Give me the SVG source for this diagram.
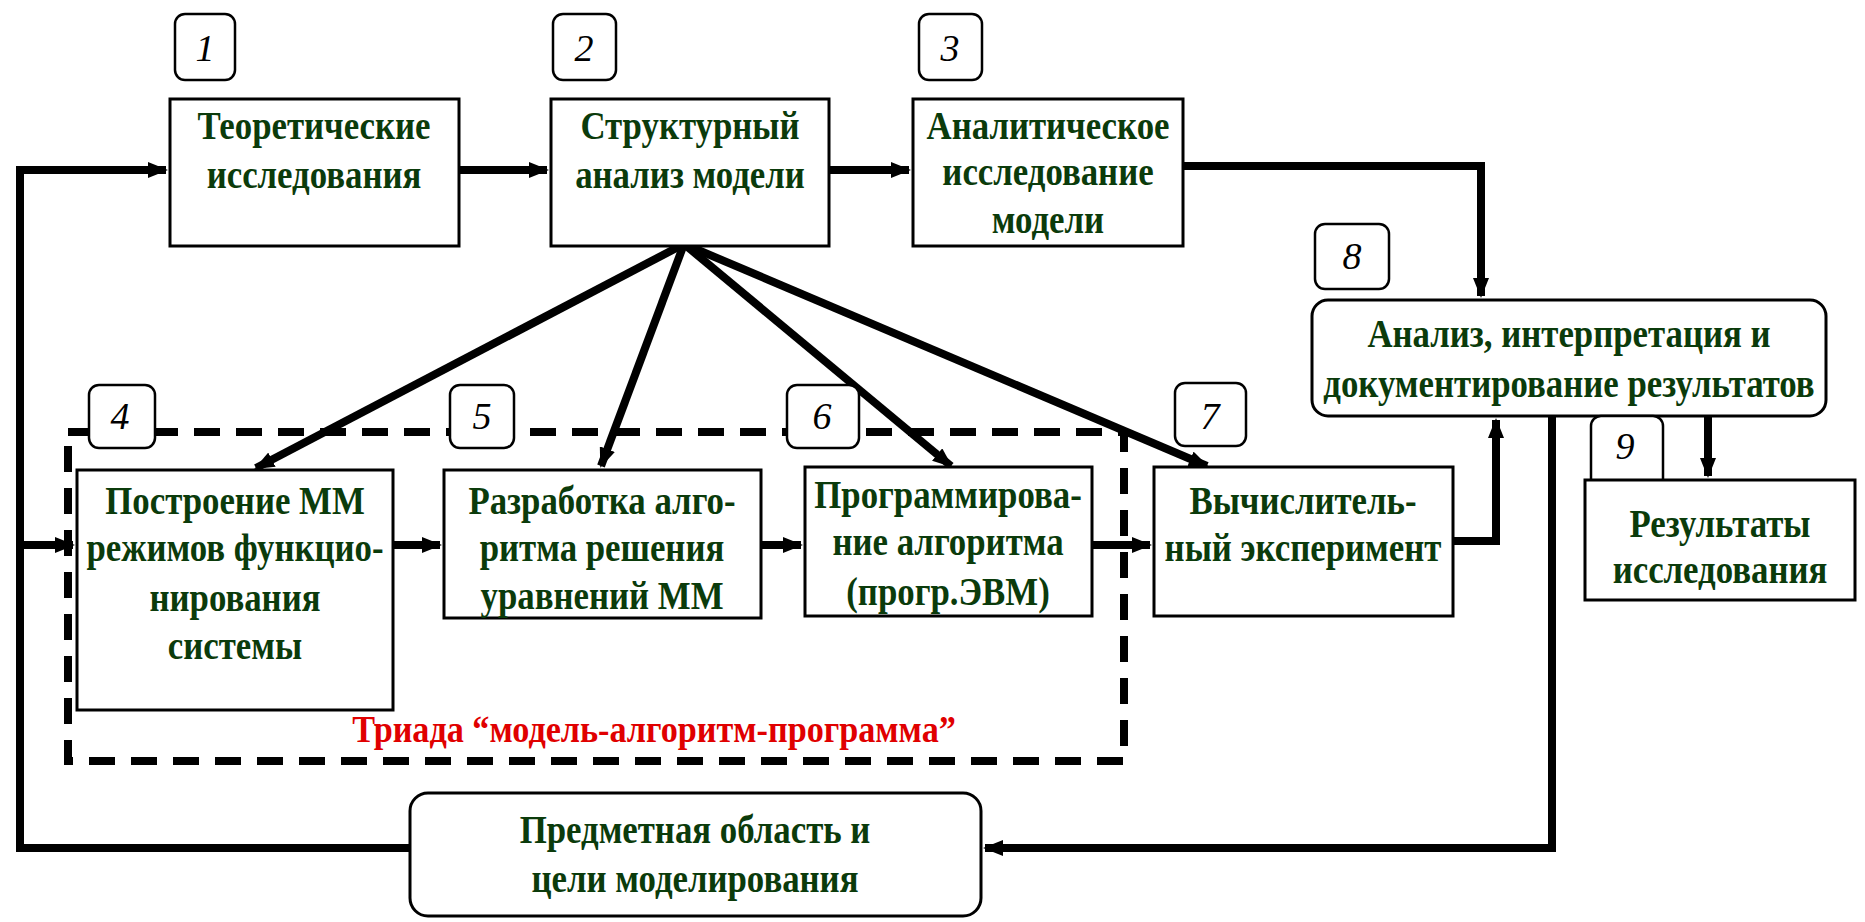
<svg xmlns="http://www.w3.org/2000/svg" width="1865" height="922" viewBox="0 0 1865 922">
<style>
.box{fill:#fff;stroke:#000;stroke-width:3}
.lbl{fill:#fff;stroke:#000;stroke-width:2.5}
.t{font-family:"Liberation Serif","Times New Roman",serif;font-weight:bold;font-size:40px;fill:#0b3b0b;text-anchor:middle}
.n{font-family:"Liberation Serif","Times New Roman",serif;font-style:italic;font-size:38px;fill:#000;text-anchor:middle}
.c{fill:none;stroke:#000;stroke-width:8}
.tr{font-family:"Liberation Serif","Times New Roman",serif;font-weight:bold;font-size:38px;fill:#e00000;text-anchor:middle}
</style>
<defs>
<marker id="ah" markerUnits="userSpaceOnUse" markerWidth="20" markerHeight="16" refX="18" refY="8" orient="auto">
<path d="M0,0 L20,8 L0,16 Z" fill="#000"/>
</marker>
</defs>
<rect x="0" y="0" width="1865" height="922" fill="#fff"/>

<g id="connectors">
<polyline class="c" points="410,848 20,848 20,170 166,170" marker-end="url(#ah)"/>
<line class="c" x1="20" y1="545" x2="73" y2="545" marker-end="url(#ah)"/>
<line class="c" x1="459" y1="170" x2="547" y2="170" marker-end="url(#ah)"/>
<line class="c" x1="829" y1="170" x2="909" y2="170" marker-end="url(#ah)"/>
<polyline class="c" points="1183,166 1481,166 1481,296" marker-end="url(#ah)"/>
<polyline class="c" points="1453,541 1496,541 1496,420" marker-end="url(#ah)"/>
<line class="c" x1="1708" y1="416" x2="1708" y2="476" marker-end="url(#ah)"/>
<polyline class="c" points="1552,416 1552,848 985,848" marker-end="url(#ah)"/>
<line class="c" x1="393" y1="545" x2="440" y2="545" marker-end="url(#ah)"/>
<line class="c" x1="761" y1="545" x2="801" y2="545" marker-end="url(#ah)"/>
<line class="c" x1="1092" y1="545" x2="1150" y2="545" marker-end="url(#ah)"/>
<line class="c" x1="684" y1="244" x2="256" y2="468" marker-end="url(#ah)"/>
<line class="c" x1="684" y1="244" x2="601" y2="466" marker-end="url(#ah)"/>
<line class="c" x1="684" y1="244" x2="951" y2="466" marker-end="url(#ah)"/>
<line class="c" x1="684" y1="244" x2="1207" y2="466" marker-end="url(#ah)"/>
</g>

<g id="n1">
<rect class="lbl" x="175" y="14" width="60" height="66" rx="10"/>
<text class="n" x="205" y="61">1</text>
<rect class="box" x="170" y="99" width="289" height="147"/>
<text class="t" transform="translate(314,139) scale(0.87,1)">Теоретические</text>
<text class="t" transform="translate(314,188) scale(0.87,1)">исследования</text>
</g>
<g id="n2">
<rect class="lbl" x="553" y="14" width="63" height="66" rx="10"/>
<text class="n" x="584" y="61">2</text>
<rect class="box" x="551" y="99" width="278" height="147"/>
<text class="t" transform="translate(690,139) scale(0.87,1)">Структурный</text>
<text class="t" transform="translate(690,188) scale(0.87,1)">анализ модели</text>
</g>
<g id="n3">
<rect class="lbl" x="919" y="14" width="63" height="66" rx="10"/>
<text class="n" x="950" y="61">3</text>
<rect class="box" x="913" y="99" width="270" height="147"/>
<text class="t" transform="translate(1048,139) scale(0.87,1)">Аналитическое</text>
<text class="t" transform="translate(1048,185) scale(0.87,1)">исследование</text>
<text class="t" transform="translate(1048,233) scale(0.87,1)">модели</text>
</g>
<g id="n8">
<rect class="lbl" x="1315" y="224" width="74" height="65" rx="10"/>
<text class="n" x="1352" y="269">8</text>
<rect class="box" x="1312" y="300" width="514" height="116" rx="16"/>
<text class="t" transform="translate(1569,347) scale(0.87,1)">Анализ, интерпретация и</text>
<text class="t" transform="translate(1569,397) scale(0.87,1)">документирование результатов</text>
</g>
<g id="n9">
<rect class="lbl" x="1591" y="416" width="72" height="74" rx="10"/>
<text class="n" x="1625" y="459">9</text>
<rect class="box" x="1585" y="480" width="270" height="120"/>
<text class="t" transform="translate(1720,537) scale(0.87,1)">Результаты</text>
<text class="t" transform="translate(1720,583) scale(0.87,1)">исследования</text>
</g>

<g id="triad">
<rect x="68" y="432" width="1056" height="329" fill="none" stroke="#000" stroke-width="8" stroke-dasharray="26,16"/>
<text class="tr" transform="translate(654,742) scale(0.9,1)">Триада “модель-алгоритм-программа”</text>
</g>
<g id="n4">
<rect class="lbl" x="89" y="385" width="66" height="63" rx="10"/>
<text class="n" x="120" y="429">4</text>
<rect class="box" x="77" y="470" width="316" height="240"/>
<text class="t" transform="translate(235,514) scale(0.87,1)">Построение ММ</text>
<text class="t" transform="translate(235,561) scale(0.87,1)">режимов функцио-</text>
<text class="t" transform="translate(235,611) scale(0.87,1)">нирования</text>
<text class="t" transform="translate(235,659) scale(0.87,1)">системы</text>
</g>
<g id="n5">
<rect class="lbl" x="450" y="385" width="64" height="63" rx="10"/>
<text class="n" x="482" y="429">5</text>
<rect class="box" x="444" y="470" width="317" height="148"/>
<text class="t" transform="translate(602,514) scale(0.87,1)">Разработка алго-</text>
<text class="t" transform="translate(602,561) scale(0.87,1)">ритма  решения</text>
<text class="t" transform="translate(602,609) scale(0.87,1)">уравнений ММ</text>
</g>
<g id="n6">
<rect class="lbl" x="787" y="385" width="72" height="63" rx="10"/>
<text class="n" x="822" y="429">6</text>
<rect class="box" x="805" y="467" width="287" height="149"/>
<text class="t" transform="translate(948,508) scale(0.87,1)">Программирова-</text>
<text class="t" transform="translate(948,555) scale(0.87,1)">ние алгоритма</text>
<text class="t" transform="translate(948,605) scale(0.87,1)">(прогр.ЭВМ)</text>
</g>
<g id="n7">
<rect class="lbl" x="1175" y="383" width="71" height="63" rx="10"/>
<text class="n" x="1210" y="429">7</text>
<rect class="box" x="1154" y="467" width="299" height="149"/>
<text class="t" transform="translate(1303,514) scale(0.87,1)">Вычислитель-</text>
<text class="t" transform="translate(1303,561) scale(0.87,1)">ный эксперимент</text>
</g>
<g id="n10">
<rect class="box" x="410" y="793" width="571" height="123" rx="18"/>
<text class="t" transform="translate(695,843) scale(0.87,1)">Предметная область и</text>
<text class="t" transform="translate(695,892) scale(0.87,1)">цели моделирования</text>
</g>
</svg>
